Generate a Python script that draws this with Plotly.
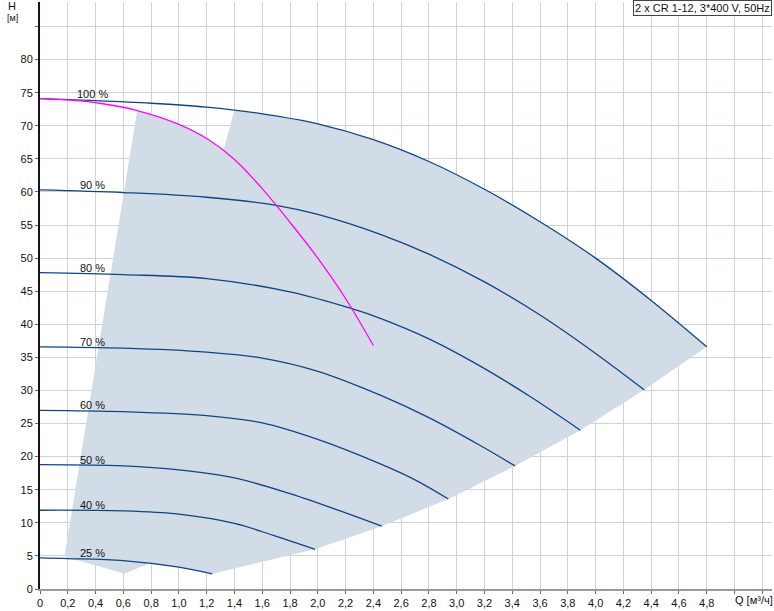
import plotly.graph_objects as go

# ---- data ----
q100 = [0, 0.4, 0.8, 1.2, 1.6, 2.0, 2.4, 2.8, 3.2, 3.6, 4.0, 4.4, 4.8]
h100 = [74.1, 73.8, 73.4, 72.8, 71.8, 70.3, 67.9, 64.6, 60.4, 55.5, 50.0, 43.6, 36.6]
q90 = [0, 0.6, 1.2, 1.72, 2.0, 2.45, 2.8, 3.2, 3.6, 4.0, 4.35]
h90 = [60.3, 59.9, 59.2, 57.9, 56.6, 53.6, 50.6, 46.4, 41.4, 35.6, 30.1]
q80 = [0, 0.6, 1.2, 1.8, 2.24, 2.45, 2.8, 3.16, 3.52, 3.89]
h80 = [47.8, 47.5, 46.9, 44.9, 42.4, 40.9, 37.8, 33.8, 29.2, 24.0]
q70 = [0, 0.6, 1.2, 1.6, 2.0, 2.45, 2.8, 3.16, 3.42]
h70 = [36.6, 36.4, 35.8, 34.9, 32.9, 29.3, 25.9, 21.8, 18.6]
q60 = [0, 0.6, 1.2, 1.6, 2.0, 2.45, 2.69, 2.94]
h60 = [27.0, 26.8, 26.2, 25.1, 22.6, 18.9, 16.6, 13.6]
q50 = [0, 0.6, 1.0, 1.4, 1.8, 2.2, 2.46]
h50 = [18.8, 18.6, 18.0, 16.8, 14.4, 11.5, 9.5]
q40 = [0, 0.6, 1.0, 1.4, 1.68, 1.98]
h40 = [11.9, 11.8, 11.3, 9.9, 8.1, 6.0]
q25 = [0, 0.2, 0.6, 1.0, 1.24]
h25 = [4.7, 4.6, 4.3, 3.3, 2.3]

speed_labels = ["100 %", "90 %", "80 %", "70 %", "60 %", "50 %", "40 %", "25 %"]

# magenta curve
qm = [0, 0.2, 0.43, 0.7, 1.0, 1.22, 1.4, 1.6, 1.8, 2.0, 2.2, 2.4]
hm = [74.1, 73.9, 73.4, 72.3, 70.2, 67.8, 64.9, 60.5, 55.4, 50.0, 43.9, 36.8]

# operating-region corner points
region_left_q = [0.176, 0.696]
region_left_h = [4.9, 72.3]
notch_q = [1.32, 1.40]
notch_h = [66.2, 72.4]
region_bottom_q = [0.79, 0.608]
region_bottom_h = [3.9, 2.3]

x_ticks = [round(0.2 * i, 1) for i in range(27)]
y_ticks = list(range(0, 90, 5))
title_box = "2 x CR 1-12, 3*400 V, 50Hz"

curves = [(q100, h100), (q90, h90), (q80, h80), (q70, h70),
          (q60, h60), (q50, h50), (q40, h40), (q25, h25)]

# ---- build region polygon from the read points ----
pq, ph = [], []
pq += region_left_q; ph += region_left_h
for q, h in zip(qm, hm):
    if region_left_q[1] < q < notch_q[0]:
        pq.append(q); ph.append(h)
pq += notch_q; ph += notch_h
for q, h in zip(q100, h100):
    if q > notch_q[1]:
        pq.append(q); ph.append(h)
for q, h in curves[1:]:
    pq.append(q[-1]); ph.append(h[-1])
for q, h in zip(q25[::-1], h25[::-1]):
    if region_bottom_q[0] < q < q25[-1]:
        pq.append(q); ph.append(h)
pq += region_bottom_q; ph += region_bottom_h
pq.append(region_left_q[0]); ph.append(region_left_h[0])

fig = go.Figure()
fig.add_trace(go.Scatter(x=pq, y=ph, mode="lines", fill="toself",
                         fillcolor="rgb(210,220,230)", line=dict(width=0),
                         hoverinfo="skip", showlegend=False))
for q, h in curves:
    fig.add_trace(go.Scatter(x=q, y=h, mode="lines",
                             line=dict(color="#0f4583", width=1.3, shape="spline", smoothing=1.0),
                             showlegend=False))
fig.add_trace(go.Scatter(x=qm, y=hm, mode="lines",
                         line=dict(color="#ff00ff", width=1.3, shape="spline", smoothing=1.0),
                         showlegend=False))

for (q, h), lab in zip(curves, speed_labels):
    fig.add_annotation(x=0.38, y=h[0], text=lab, showarrow=False,
                       yshift=5, font=dict(size=11, color="#111"))

def fmt(v):
    return ("%.1f" % v).replace(".", ",") if v != 0 else "0"

ticktext = [fmt(v) if v <= 4.8 + 1e-9 else "" for v in x_ticks]
yticktext = [str(v) if v <= 80 else "" for v in y_ticks]

fig.update_layout(
    width=774, height=611,
    margin=dict(l=40, r=2, t=2, b=19),
    paper_bgcolor="white", plot_bgcolor="white",
    font=dict(family="Liberation Sans, Arial, sans-serif", size=11, color="#111"),
    xaxis=dict(range=[0, 5.27], tickvals=x_ticks, ticktext=ticktext,
               showgrid=True, gridcolor="#ccd3dc", gridwidth=1,
               showline=True, linecolor="#9a9a9a", linewidth=2,
               ticks="outside", ticklen=3, tickcolor="#666",
               zeroline=False, fixedrange=True),
    yaxis=dict(range=[0, 88.7], tickvals=y_ticks, ticktext=yticktext,
               showgrid=True, gridcolor="#ccd3dc", gridwidth=1,
               showline=True, linecolor="#1c1020", linewidth=2,
               ticks="outside", ticklen=3, tickcolor="#666",
               zeroline=False, fixedrange=True),
)

fig.add_annotation(xref="paper", yref="paper", x=-0.038, y=0.993, text="H",
                   showarrow=False, font=dict(size=11), xanchor="center", yanchor="middle")
fig.add_annotation(xref="paper", yref="paper", x=-0.038, y=0.973, text="[м]",
                   showarrow=False, font=dict(size=9), xanchor="center", yanchor="middle")
fig.add_annotation(xref="x", yref="paper", x=5.14, y=0, yshift=-11, text="Q [м³/ч]",
                   showarrow=False, font=dict(size=11), xanchor="center", yanchor="middle")
fig.add_annotation(xref="paper", yref="paper", x=1.0, y=0.99, text=title_box,
                   showarrow=False, font=dict(size=11), xanchor="right", yanchor="middle",
                   bordercolor="#444", borderwidth=1, borderpad=1, bgcolor="white")

fig.write_html("out.html", config={"displayModeBar": False},
               post_script="document.body.style.margin='0px';")
